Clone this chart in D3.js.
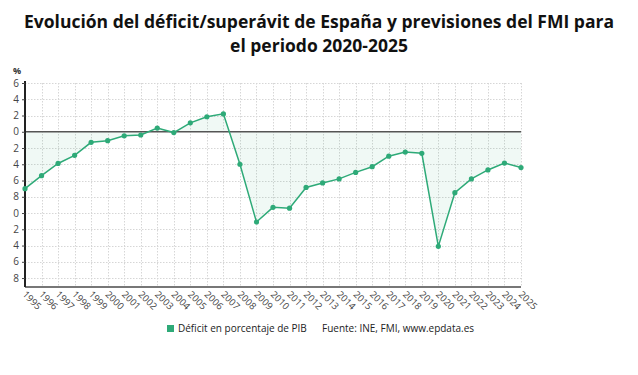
<!DOCTYPE html>
<html>
<head>
<meta charset="utf-8">
<script src="https://cdn.jsdelivr.net/npm/d3@7"></script>
<style>
  body { margin: 0; background: #fff; font-family: "Open Sans", sans-serif; }
  svg { display: block; }
</style>
</head>
<body>
<svg id="chart" width="638" height="375"></svg>
<script>
// datos
const years = [1995, 1996, 1997, 1998, 1999, 2000, 2001, 2002, 2003, 2004, 2005, 2006, 2007, 2008, 2009, 2010,
  2011, 2012, 2013, 2014, 2015, 2016, 2017, 2018, 2019, 2020, 2021, 2022, 2023, 2024, 2025];
const deficit = [-7.0, -5.4, -3.9, -2.9, -1.3, -1.1, -0.5, -0.4, 0.45, -0.1, 1.1, 1.85, 2.2, -4.0, -11.1, -9.3,
  -9.4, -6.85, -6.3, -5.8, -5.0, -4.3, -3.0, -2.5, -2.65, -14.1, -7.5, -5.8, -4.7, -3.85, -4.4];
const yTicks = [6, 4, 2, 0, -2, -4, -6, -8, -10, -12, -14, -16, -18];
const titleLines = ["Evolución del déficit/superávit de España y previsiones del FMI para", "el periodo 2020-2025"];
const legendLabel = "Déficit en porcentaje de PIB";
const sourceLabel = "Fuente: INE, FMI, www.epdata.es";

const green = "#2eaa78";
const svg = d3.select("#chart");

// titulo
svg.append("g").selectAll("text")
  .data(titleLines)
  .enter().append("text")
  .attr("x", 319)
  .attr("y", (d, i) => 28 + i * 24)
  .attr("text-anchor", "middle")
  .attr("font-size", 17.5)
  .attr("font-weight", 700)
  .attr("fill", "#111")
  .text(d => d);

const mLeft = 25, mRight = 521, mTop = 83, mBottom = 287;
const x = d3.scaleLinear().domain([1995, 2025]).range([mLeft, mRight]);
const y = d3.scaleLinear().domain([6, -19.1]).range([mTop, mBottom]);

// rejilla
const grid = svg.append("g").attr("stroke", "#d6d6d6").attr("stroke-dasharray", "1.5,1.5").attr("stroke-width", 1);
grid.selectAll("line.h").data(yTicks.filter(d => d !== 0))
  .enter().append("line")
  .attr("x1", mLeft).attr("x2", mRight)
  .attr("y1", d => Math.round(y(d)) + 0.5).attr("y2", d => Math.round(y(d)) + 0.5);
grid.selectAll("line.v").data(years.slice(1))
  .enter().append("line")
  .attr("y1", mTop).attr("y2", mBottom)
  .attr("x1", d => Math.round(x(d)) + 0.5).attr("x2", d => Math.round(x(d)) + 0.5);

// area hasta cero
const area = d3.area()
  .x((d, i) => x(years[i]))
  .y0(y(0))
  .y1(d => y(d));
svg.append("path")
  .datum(deficit)
  .attr("d", area)
  .attr("fill", green)
  .attr("fill-opacity", 0.07);

// linea de cero
svg.append("line")
  .attr("x1", mLeft).attr("x2", mRight)
  .attr("y1", y(0)).attr("y2", y(0))
  .attr("stroke", "#555").attr("stroke-width", 1.3);

// eje x
svg.append("line")
  .attr("x1", mLeft).attr("x2", mRight)
  .attr("y1", mBottom).attr("y2", mBottom)
  .attr("stroke", "#777").attr("stroke-width", 2);

svg.append("g").selectAll("text")
  .data(years)
  .enter().append("text")
  .attr("transform", d => `translate(${x(d) - 3},${mBottom + 8}) rotate(45)`)
  .attr("font-size", 9.5)
  .attr("fill", "#444")
  .text(d => d);

// eje y (etiquetas recortadas como en el original)
svg.append("defs").append("clipPath").attr("id", "yclip")
  .append("rect").attr("x", 13).attr("y", 60).attr("width", 20).attr("height", 240);

const yAxis = d3.axisLeft(y).tickValues(yTicks).tickSize(3).tickFormat(d => String(d));
const gy = svg.append("g")
  .attr("transform", `translate(${mLeft},0)`)
  .call(yAxis);
gy.select(".domain").attr("stroke", "#222").attr("stroke-width", 2).attr("d", `M0,${mTop - 2}V${mBottom}`);
gy.selectAll(".tick line").attr("stroke", "#444");
gy.selectAll(".tick text").remove();

svg.append("g")
  .attr("clip-path", "url(#yclip)")
  .selectAll("text")
  .data(yTicks)
  .enter().append("text")
  .attr("x", mLeft - 6)
  .attr("y", d => y(d))
  .attr("dy", "0.35em")
  .attr("text-anchor", "end")
  .attr("font-size", 10)
  .attr("fill", "#444")
  .text(d => String(d));

svg.append("text")
  .attr("x", 13).attr("y", 74)
  .attr("font-size", 9)
  .attr("font-weight", 700)
  .attr("fill", "#333")
  .text("%");

// linea y puntos
const line = d3.line()
  .x((d, i) => x(years[i]))
  .y(d => y(d));
svg.append("path")
  .datum(deficit)
  .attr("d", line)
  .attr("fill", "none")
  .attr("stroke", green)
  .attr("stroke-width", 1.5);
svg.append("g").selectAll("circle")
  .data(deficit)
  .enter().append("circle")
  .attr("cx", (d, i) => x(years[i]))
  .attr("cy", d => y(d))
  .attr("r", 2.6)
  .attr("fill", green);

// leyenda
const legend = svg.append("g").attr("font-size", 10).attr("fill", "#222");
legend.append("rect").attr("x", 167).attr("y", 325).attr("width", 7).attr("height", 7).attr("fill", green);
legend.append("text").attr("x", 178).attr("y", 332).text(legendLabel);
legend.append("text").attr("x", 322).attr("y", 332).text(sourceLabel);
</script>
</body>
</html>
